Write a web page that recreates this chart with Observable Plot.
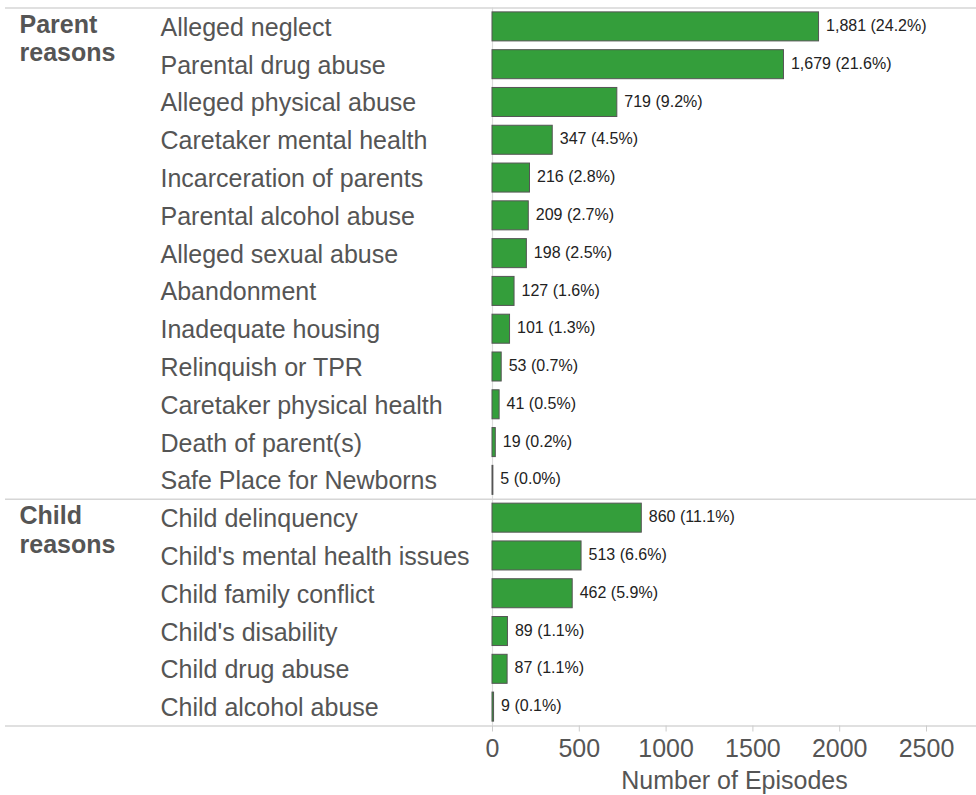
<!DOCTYPE html>
<html>
<head>
<meta charset="utf-8">
<script src="https://cdn.jsdelivr.net/npm/d3@7"></script>
<script src="https://cdn.jsdelivr.net/npm/@observablehq/plot@0.6"></script>
<style>
  html, body { margin: 0; padding: 0; background: #fff; }
  #chart svg { display: block; }
</style>
</head>
<body>
<div id="chart"></div>
<script>
const parentReasons = [
  "Alleged neglect", "Parental drug abuse", "Alleged physical abuse",
  "Caretaker mental health", "Incarceration of parents", "Parental alcohol abuse",
  "Alleged sexual abuse", "Abandonment", "Inadequate housing",
  "Relinquish or TPR", "Caretaker physical health", "Death of parent(s)",
  "Safe Place for Newborns"
];
const parentCounts = [1881, 1679, 719, 347, 216, 209, 198, 127, 101, 53, 41, 19, 5];
const parentPcts = [24.2, 21.6, 9.2, 4.5, 2.8, 2.7, 2.5, 1.6, 1.3, 0.7, 0.5, 0.2, 0.0];

const childReasons = [
  "Child delinquency", "Child's mental health issues", "Child family conflict",
  "Child's disability", "Child drug abuse", "Child alcohol abuse"
];
const childCounts = [860, 513, 462, 89, 87, 9];
const childPcts = [11.1, 6.6, 5.9, 1.1, 1.1, 0.1];

const groupNames = ["Parent\nreasons", "Child\nreasons"];
const xTicks = [0, 500, 1000, 1500, 2000, 2500];
const xLabel = "Number of Episodes";

// Build table
const groups = [
  {name: groupNames[0], reasons: parentReasons, counts: parentCounts, pcts: parentPcts},
  {name: groupNames[1], reasons: childReasons, counts: childCounts, pcts: childPcts}
];
const rows = [];
const groupStarts = [];
groups.forEach(g => {
  groupStarts.push({name: g.name, i: rows.length});
  g.reasons.forEach((r, k) => {
    rows.push({i: rows.length, reason: r, count: g.counts[k], pct: g.pcts[k]});
  });
});
const n = rows.length;
const boundaries = [...groupStarts.map(g => g.i - 0.5), n - 0.5];
const fmt = d3.format(",");

const W = 976, H = 795;
const ML = 492, MT = 7.5, MB = 69.5;
const font = "'Liberation Sans', Arial, sans-serif";

const chart = Plot.plot({
  width: W,
  height: H,
  marginLeft: ML,
  marginRight: 0,
  marginTop: MT,
  marginBottom: MB,
  style: {fontFamily: font, background: "#fff"},
  x: {domain: [0, 2788], axis: null},
  y: {domain: [-0.5, n - 0.5], range: [MT, H - MB], axis: null},
  marks: [
    Plot.ruleX([0], {stroke: "#dcdcdc", strokeWidth: 1.2}),
    Plot.ruleY(boundaries, {stroke: "#d6d6d6", strokeWidth: 1.5, insetLeft: -(ML - 5)}),
    Plot.rect(rows, {
      x1: 0, x2: "count",
      y1: d => d.i - 0.384, y2: d => d.i + 0.384,
      fill: "#349e3b", stroke: "#555", strokeWidth: 1
    }),
    Plot.text(rows, {
      x: "count", y: "i",
      text: d => `${fmt(d.count)} (${d.pct.toFixed(1)}%)`,
      textAnchor: "start", dx: 7, dy: -1,
      fontSize: 16, fill: "#222"
    }),
    Plot.text(rows, {
      y: "i", frameAnchor: "left",
      text: "reason", textAnchor: "start", dx: 160 - ML, dy: 1,
      fontSize: 25, fill: "#555"
    }),
    Plot.text(groupStarts, {
      y: d => d.i - 0.5, frameAnchor: "left",
      text: "name", textAnchor: "start", lineAnchor: "top",
      dx: 19 - ML, dy: 5, lineHeight: 1.13,
      fontSize: 25, fontWeight: "bold", fill: "#555"
    }),
    Plot.axisX({
      ticks: xTicks, tickFormat: d3.format("d"),
      tickSize: 6, tickPadding: 7, fontSize: 25,
      stroke: "#cccccc", fill: "#555", label: null
    }),
    Plot.text([xLabel], {
      frameAnchor: "bottom", lineAnchor: "top", dy: 45.5,
      fontSize: 25, fill: "#555"
    })
  ]
});
document.getElementById("chart").appendChild(chart);
</script>
</body>
</html>
